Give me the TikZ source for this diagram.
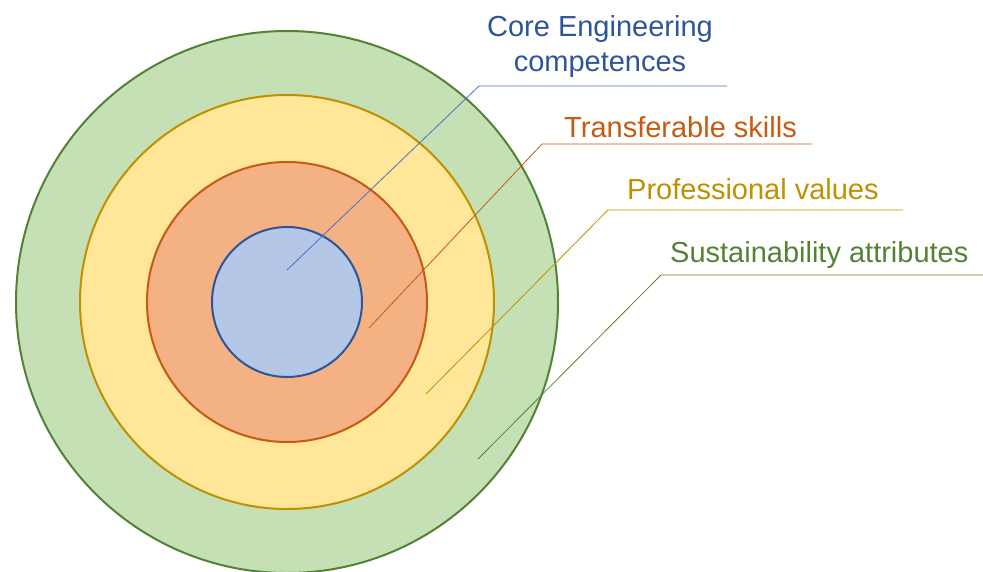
\documentclass[tikz,border=0pt]{standalone}
\usepackage{fontspec}
\setmainfont{Liberation Sans}
\definecolor{cblue}{HTML}{2F5597}
\definecolor{cbluefill}{HTML}{B4C7E7}
\definecolor{cblueline}{HTML}{4472C4}
\definecolor{corange}{HTML}{C55A11}
\definecolor{corangefill}{HTML}{F4B183}
\definecolor{cyellow}{HTML}{BF9000}
\definecolor{cyellowfill}{HTML}{FFE699}
\definecolor{cgreen}{HTML}{548235}
\definecolor{cgreenfill}{HTML}{C5E0B4}
\begin{document}
\begin{tikzpicture}[x=1pt,y=-1pt,
  ring/.style={circle,inner sep=0pt,line width=2pt},
  lbl/.style={inner sep=0pt,font=\fontsize{29}{35}\selectfont,anchor=base west},
  leader/.style={line width=0.8pt}]
\useasboundingbox (0,0) rectangle (983,571);
\node[ring,draw=cgreen,fill=cgreenfill,minimum size=542pt] (green) at (287,302) {};
\node[ring,draw=cyellow,fill=cyellowfill,minimum size=414pt] (yellow) at (287,302) {};
\node[ring,draw=corange,fill=corangefill,minimum size=280pt] (orange) at (287,302) {};
\node[ring,draw=cblue,fill=cbluefill,minimum size=150pt] (blue) at (287,302) {};
% labels
\node[lbl,anchor=base,align=center,text=cblue] (lcore) at (600,71) {Core Engineering\\competences};
\node[lbl,text=corange] (ltrans) at (564,137) {Transferable skills};
\node[lbl,text=cyellow] (lprof) at (627,199) {Professional values};
\node[lbl,text=cgreen] (lsust) at (670,262) {Sustainability attributes};
% leader points
\coordinate (s1) at (287,270); \coordinate (k1) at (479,86); \coordinate (e1) at (727,86);
\coordinate (s2) at (369,328); \coordinate (k2) at (542,144); \coordinate (e2) at (812,144);
\coordinate (s3) at (426,394); \coordinate (k3) at (608,210); \coordinate (e3) at (903,210);
\coordinate (s4) at (478,459); \coordinate (k4) at (661,275); \coordinate (e4) at (983,275);
\draw[leader,cblueline] (s1) -- (k1) -- (e1);
\draw[leader,corange] (s2) -- (k2) -- (e2);
\draw[leader,cyellow] (s3) -- (k3) -- (e3);
\draw[leader,cgreen] (s4) -- (k4) -- (e4);
\end{tikzpicture}
\end{document}
